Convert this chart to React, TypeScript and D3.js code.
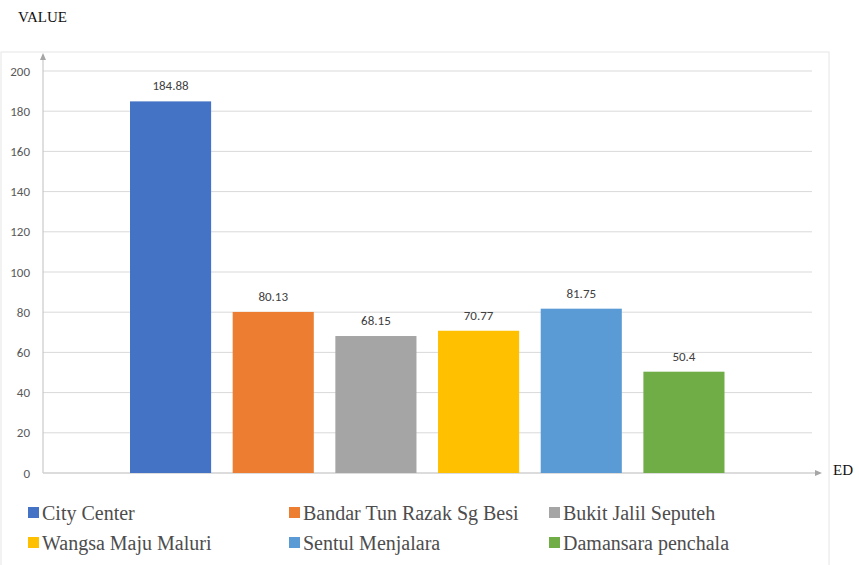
import React from "react";
import * as d3 from "d3";

const categories = [
  "City Center",
  "Bandar Tun Razak Sg Besi",
  "Bukit Jalil Seputeh",
  "Wangsa Maju Maluri",
  "Sentul Menjalara",
  "Damansara penchala",
];
const values = [184.88, 80.13, 68.15, 70.77, 81.75, 50.4];
const valueLabels = ["184.88", "80.13", "68.15", "70.77", "81.75", "50.4"];
const colors = ["#4472C4", "#ED7D31", "#A5A5A5", "#FFC000", "#5B9BD5", "#70AD47"];
const yTicks = [0, 20, 40, 60, 80, 100, 120, 140, 160, 180, 200];
const yTitle = "VALUE";
const xTitle = "ED";

export default function App() {
  const W = 859, H = 565;
  const axisX = 43, gridEnd = 812, axisEnd = 822;
  const y = d3.scaleLinear().domain([0, 200]).range([473, 71]);
  const x = d3.scaleBand<string>().domain(categories).range([130, 724.5]).paddingInner(0.21).paddingOuter(0);
  const sans = "Calibri, 'Open Sans', 'Liberation Sans', sans-serif";
  const serif = "'Liberation Serif', 'Times New Roman', serif";
  const legendCols = [28, 289, 549];
  const legendRows = [513, 543];
  return (
    <svg width={W} height={H} style={{ position: "absolute", left: 0, top: 0, background: "#fff" }}>
      <rect x={1} y={52} width={828} height={H} fill="none" stroke="#e6e6e6" strokeWidth={1} />
      <text x={18} y={22} fontFamily={serif} fontSize={15} fill="#111">{yTitle}</text>
      {yTicks.map((t) => (
        <g key={t}>
          {t > 0 && <line x1={axisX} x2={gridEnd} y1={y(t)} y2={y(t)} stroke="#d9d9d9" strokeWidth={1} />}
          <text x={30} y={y(t)} dy="0.35em" textAnchor="end" fontFamily={sans} fontSize={13} fill="#595959">{t}</text>
        </g>
      ))}
      <line x1={axisX} x2={axisX} y1={y(0)} y2={58} stroke="#bfbfbf" strokeWidth={1} />
      <path d={`M${axisX - 3},${60} L${axisX},${53} L${axisX + 3},${60} Z`} fill="#a6a6a6" />
      <line x1={axisX} x2={axisEnd - 5} y1={y(0)} y2={y(0)} stroke="#d0d0d0" strokeWidth={1.5} />
      <path d={`M${axisEnd - 7},${y(0) - 3} L${axisEnd},${y(0)} L${axisEnd - 7},${y(0) + 3} Z`} fill="#a6a6a6" />
      <text x={833} y={475} fontFamily={serif} fontSize={15} fill="#111">{xTitle}</text>
      {categories.map((c, i) => (
        <g key={c}>
          <rect x={x(c)} y={y(values[i])} width={x.bandwidth()} height={y(0) - y(values[i])} fill={colors[i]} />
          <text x={(x(c) as number) + x.bandwidth() / 2} y={y(values[i]) - 11} textAnchor="middle" fontFamily={sans} fontSize={13} fill="#404040">{valueLabels[i]}</text>
        </g>
      ))}
      {categories.map((c, i) => {
        const lx = legendCols[i % 3];
        const ly = legendRows[Math.floor(i / 3)];
        return (
          <g key={"l" + c}>
            <rect x={lx} y={ly - 6} width={11} height={11} fill={colors[i]} />
            <text x={lx + 14} y={ly} dy="0.35em" fontFamily={serif} fontSize={20} fill="#4d4d4d">{c}</text>
          </g>
        );
      })}
    </svg>
  );
}
